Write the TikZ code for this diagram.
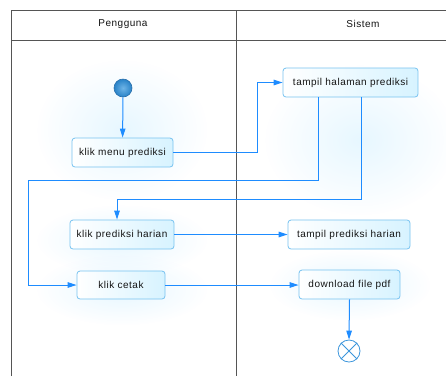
\documentclass[tikz,border=0pt]{standalone}
\usepackage{fontspec}
\setmainfont{Liberation Sans}[LetterSpace=5]
\usetikzlibrary{arrows.meta,fadings,calc}
\definecolor{arrowc}{RGB}{30,140,255}
\definecolor{boxline}{RGB}{120,195,240}
\definecolor{boxfill}{RGB}{215,243,255}
\definecolor{glowc}{RGB}{215,242,255}
\definecolor{lanec}{RGB}{85,85,85}
\definecolor{txt}{RGB}{20,20,20}
\definecolor{startin}{RGB}{110,180,230}
\definecolor{startout}{RGB}{40,130,200}
\definecolor{startline}{RGB}{40,110,170}
\definecolor{endline}{RGB}{60,150,220}
\tikzfading[name=myglow, inner color=transparent!40, outer color=transparent!100]
\tikzset{
  act/.style={draw=boxline, line width=0.8pt, rounded corners=3pt, left color=white, right color=boxfill,
    minimum height=29pt, inner sep=2pt, font=\fontsize{10}{11}\selectfont, text=txt},
  flow/.style={draw=arrowc, line width=1pt, -{Triangle[length=9pt,width=5.5pt]}},
  lane/.style={draw=lanec, line width=0.9pt},
  glow/.style={fill=glowc, path fading=myglow},
}
\begin{document}
\begin{tikzpicture}[x=1pt,y=-1pt]
\useasboundingbox (0,0) rectangle (446,376);
\fill[white] (0,0) rectangle (446,376);
% soft glows
\fill[glow] (122,130) ellipse (85 and 70);
\fill[glow] (360,140) ellipse (95 and 75);
\fill[glow] (122,240) ellipse (85 and 35);
\fill[glow] (122,290) ellipse (85 and 35);
\fill[glow] (350,285) ellipse (80 and 35);
% swimlanes
\draw[lane] (11,376) -- (11,10) -- (446,10);
\draw[lane] (11,40) -- (446,40);
\draw[lane] (236,10) -- (236,376);
\node[font=\fontsize{10}{11}\selectfont, text=txt] (hp) at (123,24) {Pengguna};
\node[font=\fontsize{10}{11}\selectfont, text=txt] (hs) at (363,24) {Sistem};
% nodes
\node[circle, minimum size=18pt, inner sep=0pt, draw=startline, line width=0.6pt,
  inner color=startin, outer color=startout] (start) at (123,88) {};
\node[act, minimum width=101pt] (km) at (122.5,152.5) {klik menu prediksi};
\node[act, minimum width=135pt] (th) at (350.5,82.5) {tampil halaman prediksi};
\node[act, minimum width=104pt] (kph) at (122,234.5) {klik prediksi harian};
\node[act, minimum width=122pt] (tph) at (349,234.5) {tampil prediksi harian};
\node[act, minimum width=88pt, minimum height=28pt] (kc) at (121,285) {klik cetak};
\node[act, minimum width=101pt] (dl) at (349.5,284.5) {download file pdf};
\node[circle, minimum size=22pt, inner sep=0pt, draw=endline, line width=0.8pt, fill=white] (end) at (349,351) {};
\draw[endline, line width=0.8pt] (end.north west) -- (end.south east) (end.north east) -- (end.south west);
% waypoints
\coordinate (w1) at (257,152.5);
\coordinate (w2) at (28,180);
\coordinate (w3) at (117,199);
% connectors
\draw[flow] (start) -- (km);
\draw[flow] (km.east) -- (w1) |- (th.west);
\draw[flow] ([xshift=-32.5pt]th.south) |- (w2) |- (kc.west);
\draw[flow] ([xshift=10.5pt]th.south) |- (w3) -- (w3 |- kph.north);
\draw[flow] (kph.east) -- (tph.west);
\draw[flow] (kc.east) -- (kc.east -| dl.west);
\draw[flow] (dl.south) -- (end.north);
\end{tikzpicture}
\end{document}
